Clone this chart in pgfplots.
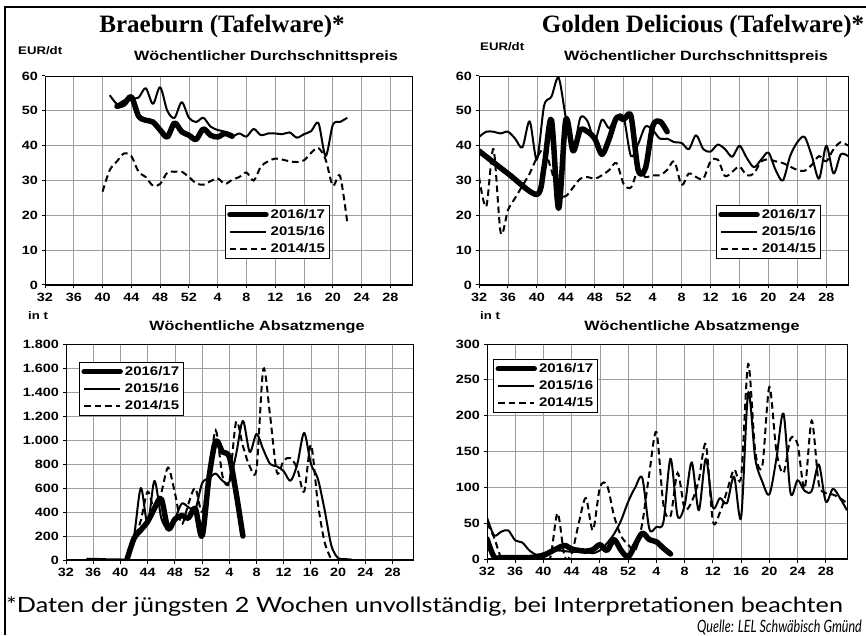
\documentclass[border=0pt]{standalone}
\usepackage{fontspec}
\usepackage{pgfplots}
\pgfplotsset{compat=1.18}
\setmainfont{Liberation Sans}
\newfontfamily\axfont[FakeStretch=1.2]{Liberation Sans}
\newfontfamily\titlefont{Liberation Serif}
\newfontfamily\notefont[FakeStretch=1.2]{Lato}
\newfontfamily\srcfont[FakeStretch=0.74]{Lato}
\pgfplotsset{
  base/.style={scale only axis, xmin=0, xmax=51,
    xtick={0,4,...,48}, xticklabels={32,36,40,44,48,52,4,8,12,16,20,24,28},
    grid=major, major grid style={color=black!38, line width=0.7pt},
    axis line style={line width=0.8pt},
    tick align=outside, xtick pos=left, ytick pos=left,
    major tick length=3.5pt, tick style={black, line width=1pt},
    ticklabel style={font=\axfont\bfseries\fontsize{12}{12}\selectfont},
    xticklabel style={yshift=-1pt},
    legend cell align=left,
    legend style={draw=black, line width=0.8pt, fill=white,
      font=\axfont\bfseries\fontsize{12.5}{13}\selectfont,
      inner sep=2pt, row sep=2.5pt},
    legend image code/.code={\draw[##1] (0pt,0pt) -- (36pt,0pt);},
  },
  s17/.style={black, line width=5.5pt, line cap=round, line join=round, smooth, tension=0.5},
  s16/.style={black, line width=2pt, line join=round, smooth, tension=0.5},
  s15/.style={black, line width=2pt, dash pattern=on 6.5pt off 4pt, smooth, tension=0.5},
}
\newcommand{\axlines}{\draw[line width=2pt] (rel axis cs:0,1) -- (rel axis cs:0,0) -- (rel axis cs:1,0);}
\begin{document}
\begin{tikzpicture}
\useasboundingbox (0pt,0pt) rectangle (866pt,635pt);
\draw[line width=2pt] (866pt,628pt) -- (5pt,628pt) -- (5pt,0pt);
% titles
\node[anchor=base] at (222pt,602pt) {\titlefont\bfseries\fontsize{25}{25}\selectfont Braeburn (Tafelware)*};
\node[anchor=base] at (703pt,602pt) {\titlefont\bfseries\fontsize{25}{25}\selectfont Golden Delicious (Tafelware)*};
\node[anchor=west, inner sep=0pt] at (18pt,584pt) {\axfont\bfseries\fontsize{11}{11}\selectfont EUR/dt};
\node at (266pt,578pt) {\axfont\bfseries\fontsize{13.5}{13.5}\selectfont Wöchentlicher Durchschnittspreis};
\node[anchor=west, inner sep=0pt] at (480pt,588pt) {\axfont\bfseries\fontsize{11}{11}\selectfont EUR/dt};
\node at (696pt,578pt) {\axfont\bfseries\fontsize{13.5}{13.5}\selectfont Wöchentlicher Durchschnittspreis};
\node[anchor=west, inner sep=0pt] at (28pt,319pt) {\axfont\bfseries\fontsize{11}{11}\selectfont in t};
\node at (257pt,308pt) {\axfont\bfseries\fontsize{13.5}{13.5}\selectfont Wöchentliche Absatzmenge};
\node[anchor=west, inner sep=0pt] at (480pt,319pt) {\axfont\bfseries\fontsize{11}{11}\selectfont in t};
\node at (692pt,308pt) {\axfont\bfseries\fontsize{13.5}{13.5}\selectfont Wöchentliche Absatzmenge};
\node[anchor=base west, inner sep=0pt] at (6pt,23pt) {\notefont\fontsize{21}{21}\selectfont *Daten der jüngsten 2 Wochen unvollständig, bei Interpretationen beachten};
\node[anchor=base east, inner sep=0pt] at (862pt,3pt) {\srcfont\itshape\fontsize{17}{17}\selectfont Quelle: LEL Schwäbisch Gmünd};

% ---------- top left ----------
\begin{axis}[base, at={(45pt,350pt)}, anchor=south west, width=367pt, height=209pt,
  ymin=0, ymax=60, ytick={0,10,...,60}, yticklabels={0,10,20,30,40,50,60},
  legend style={at={(0.49,0.383)}, anchor=north west}]
\addplot[s17] coordinates {(10,51.3)(11,52)(12,54)(13,48.5)(14,47.3)(15,46.8)(16,44.5)(17,42.5)(18,46.5)(19,44)(20,43)(21,41.8)(22,44.8)(23,43)(24,42.5)(25,43.5)(26,42.7)};
\addlegendentry{2016/17}
\addplot[s16] coordinates {(9,54.5)(10,52)(11,53)(12,53.5)(13,53.8)(14,56.5)(15,52)(16,56.8)(17,50)(18,48)(19,52.5)(20,48)(21,46.8)(22,48)(23,45.5)(24,44.5)(25,44)(26,42.7)(27,43.5)(28,42.6)(29,44.8)(30,43)(31,43.5)(32,43.5)(33,43.3)(34,43.8)(35,42.3)(36,43.3)(37,44.2)(38,46.5)(39,37)(40,46)(41,46.8)(42,48)};
\addlegendentry{2015/16}
\addplot[s15] coordinates {(8,26.8)(9,33)(10,35.5)(11,37.8)(12,37)(13,32.5)(14,31)(15,28.5)(16,29)(17,32.3)(18,32.5)(19,32.5)(20,31)(21,29.2)(22,28.8)(23,29.8)(24,30.6)(25,29)(26,30.2)(27,31)(28,32.3)(29,30)(30,34)(31,35.5)(32,36.3)(33,36)(34,35.5)(35,35.3)(36,35.8)(37,38)(38,39.3)(39,36)(40,28.5)(41,31.3)(42,18)};
\addlegendentry{2014/15}
\axlines
\end{axis}

% ---------- top right ----------
\begin{axis}[base, at={(479pt,350pt)}, anchor=south west, width=369pt, height=209pt,
  ymin=0, ymax=60, ytick={0,10,...,60}, yticklabels={0,10,20,30,40,50,60},
  legend style={at={(0.642,0.383)}, anchor=north west}]
\addplot[s17] coordinates {(0,38.5)(4,32)(8,26)(9,34)(10,47.5)(11,22)(12,47.5)(13,38.5)(14,44.5)(15,44)(16,42)(17,37.5)(18,42)(19,48)(20,47.5)(21,48.5)(22,33)(23,33.5)(24,45.5)(25,47)(26,44)};
\addlegendentry{2016/17}
\addplot[s16] coordinates {(0,42.5)(1,44)(2,44)(3,43.5)(4,44)(5,42)(6,39.5)(7,47)(8,36)(9,51.5)(10,54)(11,59.5)(12,48)(13,38.5)(14,48)(15,47)(16,41.5)(17,47.5)(18,45)(19,48.5)(20,48)(21,37)(22,40.5)(23,45.5)(24,44.5)(25,42)(26,42)(27,41)(28,40.8)(29,39)(30,43)(31,39)(32,38.3)(33,40.3)(34,39)(35,36.8)(36,40)(37,36.5)(38,33.8)(39,36)(40,38)(41,33)(42,30)(43,37)(44,41)(45,42.5)(46,37)(47,30.5)(48,40)(49,32)(50,37.5)(51,37)};
\addlegendentry{2015/16}
\addplot[s15] coordinates {(0,31)(1,22.5)(2,39)(3,15)(4,21.5)(5,25)(6,28.5)(7,32)(8,36.5)(9,39)(10,33)(11,26)(12,25.5)(13,28)(14,30.5)(15,31)(16,30.5)(17,31.5)(18,33)(19,35)(20,29)(21,28)(22,33)(23,31)(24,31.5)(25,31.5)(26,33)(27,35.5)(28,28.7)(29,32)(30,31)(31,30.5)(32,35.5)(33,36)(34,31.3)(35,32.5)(36,34)(37,31.5)(38,32)(39,35.5)(40,36)(41,35.5)(42,35)(43,34)(44,33)(45,32.8)(46,34.5)(47,37)(48,35.5)(49,39)(50,41)(51,40)};
\addlegendentry{2014/15}
\axlines
\end{axis}

% ---------- bottom left ----------
\begin{axis}[base, at={(66pt,75pt)}, anchor=south west, width=347pt, height=216pt,
  ymin=0, ymax=1800, ytick={0,200,...,1800},
  yticklabels={0,200,400,600,800,{1.000},{1.200},{1.400},{1.600},{1.800}},
  legend style={at={(0.0375,0.917)}, anchor=north west}]
\addplot[s17] coordinates {(9,10)(10,180)(11,250)(12,320)(13,430)(14,510)(15,260)(16,340)(17,370)(18,350)(19,430)(20,200)(21,680)(22,990)(23,900)(24,860)(25,560)(26,200)};
\addlegendentry{2016/17}
\addplot[s16] coordinates {(3,10)(4,10)(5,8)(6,6)(7,5)(8,5)(9,15)(10,200)(11,600)(12,300)(13,660)(14,350)(15,260)(16,340)(17,470)(18,440)(19,420)(20,640)(21,680)(22,720)(23,660)(24,650)(25,880)(26,1160)(27,900)(28,1050)(29,920)(30,800)(31,780)(32,740)(33,660)(34,800)(35,1060)(36,800)(37,680)(38,420)(39,120)(40,15)(41,8)(42,3)};
\addlegendentry{2015/16}
\addplot[s15] coordinates {(8,0)(9,20)(10,170)(11,330)(12,570)(13,420)(14,560)(15,770)(16,560)(17,300)(18,470)(19,600)(20,400)(21,700)(22,1080)(23,700)(24,650)(25,1150)(26,950)(27,780)(28,760)(29,1590)(30,1200)(31,730)(32,830)(33,850)(34,760)(35,570)(36,960)(37,480)(38,150)(39,5)};
\addlegendentry{2014/15}
\axlines
\end{axis}

% ---------- bottom right ----------
\begin{axis}[base, at={(487pt,76pt)}, anchor=south west, width=360pt, height=215pt,
  ymin=0, ymax=300, ytick={0,50,...,300}, yticklabels={0,50,100,150,200,250,300},
  legend style={at={(0.017,0.93)}, anchor=north west}]
\addplot[s17] coordinates {(0,28)(1,3)(2,2)(3,2)(4,2)(5,2)(6,2)(7,3)(8,5)(9,10)(10,15)(11,19)(12,14)(13,12)(14,11)(15,13)(16,20)(17,12)(18,27)(19,12)(20,3)(21,20)(22,36)(23,27)(24,24)(25,15)(26,7)};
\addlegendentry{2016/17}
\addplot[s16] coordinates {(0,58)(1,33)(2,38)(3,40)(4,26)(5,23)(6,12)(7,6)(8,8)(9,11)(10,12)(11,11)(12,10)(13,10)(14,10)(15,8)(16,12)(17,22)(18,35)(19,54)(20,80)(21,100)(22,113)(23,42)(24,45)(25,52)(26,140)(27,60)(28,75)(29,135)(30,68)(31,140)(32,72)(33,85)(34,78)(35,115)(36,58)(37,232)(38,140)(39,108)(40,90)(41,140)(42,203)(43,92)(44,110)(45,95)(46,95)(47,132)(48,80)(49,98)(50,85)(51,68)};
\addlegendentry{2015/16}
\addplot[s15] coordinates {(0,50)(1,30)(2,2)(3,2)(4,2)(5,2)(6,2)(7,2)(8,2)(9,3)(10,64)(11,3)(12,8)(13,50)(14,85)(15,40)(16,100)(17,103)(18,60)(19,32)(20,20)(21,12)(22,50)(23,120)(24,177)(25,75)(26,60)(27,120)(28,70)(29,80)(30,110)(31,160)(32,53)(33,65)(34,95)(35,125)(36,115)(37,272)(38,150)(39,130)(40,240)(41,150)(42,120)(43,168)(44,160)(45,98)(46,193)(47,105)(48,92)(49,90)(50,85)(51,78)};
\addlegendentry{2014/15}
\axlines
\end{axis}
\end{tikzpicture}
\end{document}
